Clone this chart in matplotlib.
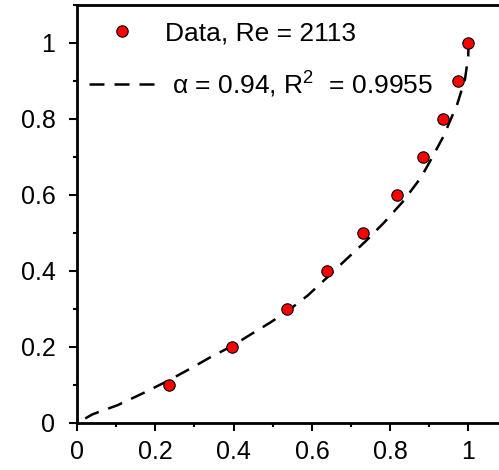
import matplotlib
matplotlib.use("Agg")
import matplotlib.pyplot as plt
from matplotlib.ticker import MultipleLocator

plt.rcParams['font.family'] = ['Liberation Sans', 'DejaVu Sans']
plt.rcParams['mathtext.fontset'] = 'custom'
plt.rcParams['mathtext.rm'] = 'Liberation Sans'

# measured points, Re = 2113
data_x = [0.236, 0.397, 0.536, 0.638, 0.731, 0.817, 0.884, 0.936, 0.974, 1.0]
data_y = [0.1, 0.2, 0.3, 0.4, 0.5, 0.6, 0.7, 0.8, 0.9, 1.0]

# fitted curve
fit_x = [0.021, 0.040, 0.104, 0.172, 0.236, 0.298, 0.344, 0.397, 0.442, 0.490,
         0.536, 0.590, 0.638, 0.685, 0.737, 0.784, 0.832, 0.878, 0.902, 0.936,
         0.971, 0.991, 0.9995, 1.0]
fit_y = [0.012, 0.023, 0.047, 0.080, 0.113, 0.148, 0.175, 0.203, 0.232, 0.262,
         0.293, 0.336, 0.382, 0.428, 0.478, 0.527, 0.582, 0.645, 0.689, 0.754,
         0.838, 0.904, 0.965, 1.0]

data_label = 'Data, Re = 2113'
fit_label = ' \u03b1 = 0.94, R$^{\\mathrm{2}}$  = 0.9955'

fig = plt.figure(figsize=(4.99, 4.70), dpi=100)
ax = fig.add_axes([0.1543, 0.1, 0.8457, 0.8894])

ax.plot(fit_x, fit_y, color='black', lw=1.8, dashes=(6, 4), label=fit_label, zorder=2)
ax.plot(data_x, data_y, 'o', color='red', markeredgecolor='black', markeredgewidth=0.8,
        markersize=8.2, label=data_label, zorder=3)

ax.set_xlim(0, 1.078)
ax.set_ylim(0, 1.1)
ax.xaxis.set_major_locator(MultipleLocator(0.2))
ax.xaxis.set_minor_locator(MultipleLocator(0.1))
ax.yaxis.set_major_locator(MultipleLocator(0.2))
ax.yaxis.set_minor_locator(MultipleLocator(0.1))
ax.xaxis.set_major_formatter(plt.FuncFormatter(lambda v, p: '%g' % round(v, 2)))
ax.yaxis.set_major_formatter(plt.FuncFormatter(lambda v, p: '%g' % round(v, 2)))

ax.spines['right'].set_visible(False)
for s in ['left', 'bottom', 'top']:
    ax.spines[s].set_linewidth(2.0)
ax.tick_params(which='major', direction='out', length=5.5, width=1.5, labelsize=18)
ax.tick_params(axis='x', which='major', pad=7)
ax.tick_params(axis='y', which='major', pad=10)
ax.tick_params(which='minor', direction='out', length=3, width=1.5)

handles, labels = ax.get_legend_handles_labels()
ax.legend(handles[::-1], labels[::-1], loc='upper left', bbox_to_anchor=(0.028, 0.96),
          frameon=False, fontsize=19, handlelength=2.55, handletextpad=0.35,
          labelspacing=0.85, borderpad=0, borderaxespad=0)

fig.savefig('out.png', dpi=100)
